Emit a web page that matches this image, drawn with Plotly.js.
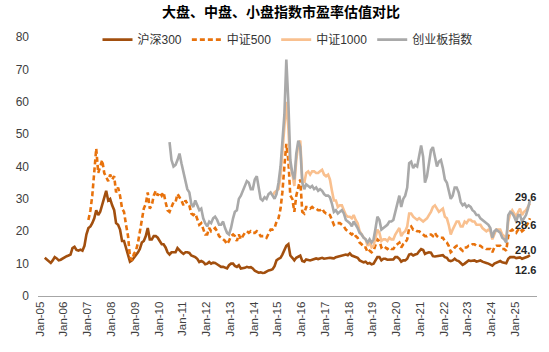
<!DOCTYPE html>
<html>
<head>
<meta charset="utf-8">
<script src="https://cdn.plot.ly/plotly-3.0.1.min.js"></script>
<style>html,body{margin:0;padding:0;background:#fff;}#chart{width:549px;height:352px;}</style>
</head>
<body>
<div id="chart"></div>
<script>
// ---- data (monthly PE readings) ----
const seriesNames = ["沪深300", "中证500", "中证1000", "创业板指数"];

const hs300Start = "2005-03";
const hs300 = [
  11.8, 11.2, 10.6, 10.2, 11.0, 12.0, 11.6, 11.0, 11.2, 11.6,
  12.0, 12.3, 12.5, 12.8, 14.8, 15.2, 14.2, 14.0, 14.3, 14.0, 15.5, 19.0,
  21.0, 21.5, 22.5, 24.0, 26.5, 25.0, 26.0, 28.5, 30.5, 32.5, 29.5, 30.0,
  28.0, 26.5, 22.5, 22.0, 20.5, 17.0, 17.0, 15.0, 13.0, 10.6, 11.0, 11.8,
  12.5, 13.5, 14.5, 16.5, 17.0, 18.5, 21.0, 17.5, 17.5, 18.5, 18.5, 18.0,
  17.0, 16.0, 16.0, 15.0, 13.5, 12.8, 13.5, 13.5, 13.5, 14.8, 14.0, 13.5,
  13.0, 13.5, 13.5, 13.3, 12.5, 12.3, 12.0, 11.5, 10.5, 10.8, 10.5, 9.8,
  10.0, 10.5, 10.0, 10.3, 10.2, 9.8, 9.3, 9.0, 9.0, 8.8, 8.5, 9.5,
  10.0, 10.0, 9.3, 9.0, 9.5, 8.5, 8.5, 8.7, 9.0, 8.8, 8.9, 8.5,
  7.8, 7.6, 7.2, 7.3, 7.1, 7.2, 7.6, 7.9, 8.0, 8.3, 9.2, 11.0,
  11.5, 11.8, 12.8, 14.5, 15.5, 16.0, 12.5, 11.8, 11.0, 11.8, 12.3, 12.5,
  10.8, 10.6, 11.3, 11.2, 11.0, 11.2, 11.3, 11.6, 11.4, 11.6, 11.8, 11.5,
  11.6, 11.8, 11.8, 11.7, 11.6, 12.0, 12.2, 12.3, 12.5, 12.8, 12.8, 12.6,
  13.2, 12.5, 12.3, 12.0, 11.8, 11.0, 10.8, 10.4, 10.6, 10.0, 10.2, 9.8,
  10.0, 11.3, 12.0, 12.0, 11.0, 11.5, 11.5, 11.2, 11.3, 11.4, 11.3, 12.0,
  12.0, 11.5, 10.6, 11.0, 11.0, 11.5, 12.8, 13.0, 12.5, 12.8, 13.0, 13.8,
  14.5, 14.2, 13.0, 13.3, 13.5, 13.4, 12.3, 12.2, 12.3, 12.5, 12.4, 12.6,
  12.0, 11.8, 11.0, 10.8, 11.0, 11.5, 11.0, 10.8, 10.2, 9.6, 10.0, 10.6,
  11.0, 10.8, 10.8, 11.0, 10.6, 10.8, 11.0, 10.6, 10.5, 10.2, 10.0, 9.8,
  9.4, 10.0, 10.3, 10.6, 10.8, 10.4, 10.3, 10.1, 11.5, 12.0, 12.0, 12.0,
  11.7, 11.9, 11.9, 11.5, 11.7, 11.9, 12.2, 12.6
];

const zz500Start = "2007-01";
const zz500 = [
  23.5, 26.5, 31.0, 39.0, 45.5, 38.0, 40.0, 42.0, 38.0, 36.5, 35.5, 37.5,
  36.0, 37.0, 32.0, 33.5, 31.0, 27.0, 26.0, 22.0, 18.5, 12.0, 11.0, 13.0,
  14.0, 16.5, 20.0, 24.5, 27.0, 28.5, 32.0, 27.0, 28.0, 31.0, 32.5, 31.0,
  32.0, 31.0, 32.0, 29.0, 26.5, 26.0, 27.5, 29.0, 29.0, 31.5, 30.5, 29.5,
  28.0, 29.5, 28.5, 28.0, 25.5, 25.0, 25.5, 24.0, 22.0, 22.5, 21.0, 19.0,
  19.0, 21.0, 20.0, 20.5, 21.0, 20.0, 18.5, 18.0, 17.5, 17.0, 16.0, 17.0,
  18.5, 19.0, 18.5, 17.0, 19.0, 17.5, 18.5, 19.5, 20.0, 19.5, 20.0, 19.5,
  19.5, 20.0, 19.5, 18.5, 18.5, 18.5, 18.0, 19.5, 20.5, 20.5, 21.0, 23.0,
  24.0, 27.0, 32.0, 40.0, 47.0, 42.0, 31.0, 30.0, 26.0, 31.0, 34.0, 36.0,
  26.0, 25.5, 27.5, 27.5, 27.0, 27.5, 27.0, 27.0, 26.5, 26.5, 27.0, 26.0,
  25.5, 25.5, 25.0, 23.5, 22.0, 22.5, 22.5, 22.5, 22.0, 21.5, 20.5, 20.0,
  19.5, 19.0, 19.5, 18.5, 18.0, 16.5, 16.0, 15.0, 15.0, 13.5, 14.0, 13.5,
  14.0, 16.0, 17.5, 17.0, 15.0, 15.5, 15.0, 14.5, 15.0, 14.5, 14.5, 15.5,
  16.0, 16.5, 15.0, 16.0, 16.5, 17.5, 21.0, 21.5, 20.5, 20.5, 20.0, 20.0,
  19.5, 19.0, 18.5, 18.5, 19.0, 19.0, 18.5, 19.5, 18.5, 18.0, 18.0, 18.0,
  17.0, 16.5, 15.5, 13.5, 14.0, 15.0, 15.5, 15.5, 14.5, 14.0, 15.0, 15.0,
  15.5, 15.5, 16.0, 16.0, 15.5, 15.5, 15.5, 15.0, 15.0, 14.5, 14.5, 14.5,
  13.5, 15.0, 15.5, 15.5, 15.5, 14.5, 14.5, 14.0, 18.5, 20.0, 20.5, 20.0,
  19.5, 20.5, 21.0, 20.0, 20.5, 21.5, 22.5, 24.0
];

const zz1000Start = "2014-10";
const zz1000 = [
  31.0, 32.0, 32.5,
  33.0, 37.0, 45.0, 52.0, 60.0, 52.0, 40.0, 38.0, 34.0, 42.0, 47.0, 48.0,
  36.0, 35.0, 38.0, 38.5, 37.5, 38.5, 38.5, 38.0, 38.0, 38.5, 39.0, 37.5,
  37.0, 37.5, 36.0, 32.5, 29.5, 29.5, 27.5, 28.0, 28.0, 26.5, 25.0, 24.5,
  24.5, 24.0, 25.0, 23.5, 22.5, 20.0, 19.0, 18.0, 17.5, 15.5, 16.5, 15.0,
  15.5, 18.0, 20.5, 19.5, 17.0, 17.5, 17.5, 17.0, 18.0, 17.5, 17.5, 19.0,
  20.0, 21.0, 18.5, 19.5, 20.0, 21.5, 25.5, 25.5, 24.5, 24.0, 23.5, 24.0,
  23.5, 23.0, 23.5, 24.0, 25.0, 26.0, 27.5, 28.0, 27.0, 26.0, 26.5, 27.0,
  24.5, 24.0, 22.0, 19.0, 20.5, 22.0, 23.0, 23.0, 21.5, 21.5, 23.0, 22.5,
  23.5, 23.5, 23.0, 23.0, 22.0, 22.0, 22.0, 21.0, 20.5, 20.0, 20.5, 20.0,
  17.5, 19.0, 20.5, 20.5, 20.5, 19.0, 18.5, 17.5, 23.0, 25.5, 26.5, 25.5,
  24.5, 26.0, 27.0, 25.0, 26.0, 26.5, 27.5, 28.6
];

const cybStart = "2010-06";
const cyb = [
  47.5, 42.0, 40.0, 40.5, 42.0, 44.0, 41.0,
  38.0, 35.0, 33.0, 32.0, 28.5, 27.5, 29.5, 28.0, 26.5, 27.0, 24.0, 22.5,
  21.5, 23.0, 22.5, 24.0, 24.5, 23.5, 22.0, 22.0, 23.0, 21.0, 19.5, 19.0,
  21.0, 24.0, 26.0, 26.5, 30.0, 31.0, 32.5, 34.0, 35.5, 35.0, 33.0, 33.0,
  36.0, 37.0, 33.0, 30.0, 29.5, 30.5, 30.0, 31.5, 32.0, 31.0, 30.0, 31.5,
  35.0, 40.0, 48.0, 56.0, 73.0, 60.0, 42.0, 38.0, 36.0, 44.0, 48.0, 46.0,
  35.0, 33.0, 34.5, 34.0, 33.5, 34.0, 33.0, 33.5, 32.5, 33.0, 32.5, 31.5,
  31.0, 31.0, 30.5, 28.5, 26.0, 26.5, 25.5, 26.0, 26.5, 25.5, 23.5, 23.0,
  22.5, 21.5, 23.0, 22.0, 21.0, 19.5, 19.0, 18.0, 17.5, 16.5, 17.5, 16.5,
  17.5, 21.0, 24.5, 23.5, 20.5, 21.0, 21.5, 22.0, 23.0, 23.0, 23.5, 26.0,
  28.5, 31.0, 27.5, 30.0, 31.0, 33.5, 41.0, 41.5, 39.5, 40.5, 40.0, 43.0,
  46.5, 43.0, 35.0, 37.0, 40.5, 45.0, 46.0, 43.0, 40.0, 41.5, 42.0, 39.5,
  36.0, 35.0, 32.5, 30.0, 31.0, 33.5, 33.5, 32.0, 29.0, 28.0, 28.5, 27.5,
  28.0, 27.5, 26.5, 26.0, 25.0, 25.0, 24.0, 23.5, 23.0, 22.5, 22.0, 21.0,
  18.0, 20.0, 20.5, 20.0, 19.5, 18.0, 17.5, 16.5, 25.0, 26.0, 25.5, 24.5,
  23.0, 25.0, 25.0, 23.0, 24.0, 25.0, 27.0, 29.6
];

const tickDates = ["2005-01-01","2006-01-01","2007-01-01","2008-01-01","2009-01-01","2010-01-01","2011-01-01",
  "2012-01-01","2013-01-01","2014-01-01","2015-01-01","2016-01-01","2017-01-01","2018-01-01","2019-01-01",
  "2020-01-01","2021-01-01","2022-01-01","2023-01-01","2024-01-01","2025-01-01"];
const tickLabels = ["Jan-05","Jan-06","Jan-07","Jan-08","Jan-09","Jan-10","Jan-11","Jan-12","Jan-13","Jan-14",
  "Jan-15","Jan-16","Jan-17","Jan-18","Jan-19","Jan-20","Jan-21","Jan-22","Jan-23","Jan-24","Jan-25"];

// ---- helpers ----
function monthDates(start, n) {
  const [y, m] = start.split("-").map(Number);
  const out = [];
  for (let i = 0; i < n; i++) {
    const t = y * 12 + (m - 1) + i;
    out.push(Math.floor(t / 12) + "-" + String(t % 12 + 1).padStart(2, "0") + "-15");
  }
  return out;
}

const FONT = "Liberation Sans, Arial, Noto Sans CJK SC, sans-serif";
const colors = ["#A24F0E", "#E8720C", "#F9C08F", "#A9A9A9"];
const dashes = ["solid", "5px,3px", "solid", "solid"];
const allVals = [hs300, zz500, zz1000, cyb];
const allStarts = [hs300Start, zz500Start, zz1000Start, cybStart];

const traces = allVals.map((vals, i) => ({
  type: "scatter",
  mode: "lines",
  name: seriesNames[i],
  x: monthDates(allStarts[i], vals.length),
  y: vals,
  line: { color: colors[i], width: 2.6, dash: dashes[i] },
  hoverinfo: "skip"
}));

// end labels
const labelShift = [-15, -32, -22, 3];
const annotations = allVals.map((vals, i) => {
  const xs = monthDates(allStarts[i], vals.length);
  return {
    x: xs[xs.length - 1], y: vals[vals.length - 1], xref: "x", yref: "y",
    text: vals[vals.length - 1].toFixed(1), showarrow: false,
    xanchor: "center", yanchor: "middle", xshift: -4, yshift: labelShift[i],
    font: { family: FONT, size: 11, color: "#262626", weight: "bold" }
  };
});

const layout = {
  width: 549, height: 352,
  margin: { l: 38, r: 12, t: 37, b: 56 },
  paper_bgcolor: "#ffffff", plot_bgcolor: "#ffffff",
  showlegend: true,
  title: {
    text: "大盘、中盘、小盘指数市盈率估值对比",
    x: 0.512, xref: "container", xanchor: "center",
    y: 1 - 12 / 352, yref: "container", yanchor: "middle",
    font: { family: "Noto Sans CJK SC, sans-serif", size: 14, color: "#000000", weight: "bold" }
  },
  legend: {
    orientation: "h", x: 0.5, xanchor: "center", y: 0.99, yanchor: "middle",
    font: { family: FONT, size: 12, color: "#333333" },
    bgcolor: "rgba(0,0,0,0)", itemwidth: 30, tracegroupgap: 0
  },
  xaxis: {
    type: "date", range: ["2004-12-01", "2025-12-01"],
    tickmode: "array", tickvals: tickDates, ticktext: tickLabels,
    tickangle: -90, ticks: "", showgrid: false, zeroline: false,
    showline: true, linecolor: "#A6A6A6", linewidth: 1,
    tickfont: { family: FONT, size: 11.5, color: "#404040" }
  },
  yaxis: {
    range: [0, 80], dtick: 10, tick0: 0, ticks: "", showgrid: false, zeroline: false,
    showline: false, ticklabelstandoff: 8,
    tickfont: { family: FONT, size: 12, color: "#404040" }
  },
  annotations: annotations
};

Plotly.newPlot("chart", traces, layout, { displayModeBar: false, staticPlot: true });
</script>
</body>
</html>
